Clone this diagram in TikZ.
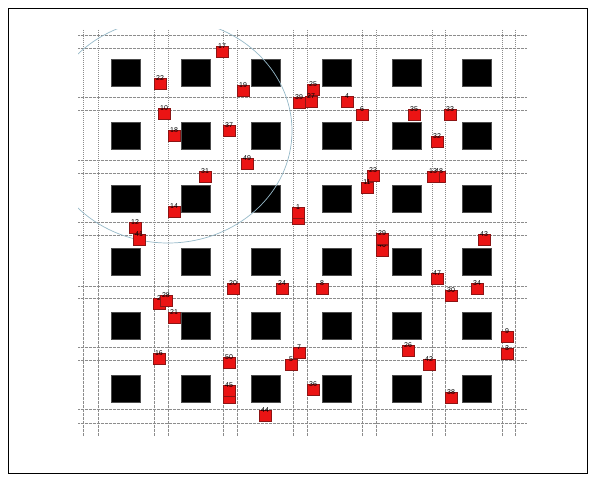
\documentclass[tikz,border=0pt]{standalone}
\usepackage{fontspec}
\setmainfont{Liberation Sans}
\usetikzlibrary{positioning}
\definecolor{cellgray}{RGB}{140,140,140}
\definecolor{rangeblue}{RGB}{150,185,200}
\definecolor{nodered}{RGB}{235,20,20}
\definecolor{nodeedge}{RGB}{140,20,20}

\begin{document}
\begin{tikzpicture}[x=1pt, y=-1pt,
    gridline/.style={draw=cellgray, line width=0.45pt,
                     dash pattern=on 1.5pt off 1pt on 0.5pt off 1pt},
    cell/.style={fill=black, draw=black!70, minimum width=29pt, minimum height=27pt,
                 inner sep=0pt, outer sep=0pt},
    sensor/.style={fill=nodered, draw=nodeedge, line width=0.4pt,
                   minimum width=11.5pt, minimum height=11pt, inner sep=0pt},
    tag/.style={anchor=south, inner sep=0pt, yshift=-2.5pt,
                font=\fontsize{7}{7}\selectfont, text=black},
    rangering/.style={draw=rangeblue, line width=0.7pt}
  ]
    \useasboundingbox (0,0) rectangle (595,481);
    \draw[line width=0.8pt] (8,8) rectangle (587,473);

    % field grid
    \foreach \x in {83,98,154,168,223,237,293,307,362,376,432,445,502,515}
      \draw[gridline] (\x,30) -- (\x,436);
    \foreach \y in {35,48,97,110,160,173,222,235,286,298,347,360,409,423}
      \draw[gridline] (78,\y) -- (527,\y);

    % cluster heads
    \foreach \c/\x in {1/126,2/196,3/266,4/337,5/407,6/477}
      \foreach \r/\y in {1/72.5,2/135.5,3/199,4/262,5/326,6/389}
        \node[cell] (b\r\c) at (\x,\y) {};

    % sensing range
    \begin{scope}
      \clip (78,30) rectangle (525,440);
      \draw[rangering] (168,131) ellipse [x radius=124, y radius=112];
    \end{scope}

    % sensor nodes
    \node[sensor] (s17) at (222,52) {};  \node[tag] (t17) at (s17.north) {17};
    \node[sensor] (s22) at (160,84) {};  \node[tag] (t22) at (s22.north) {22};
    \node[sensor] (s19) at (243,91) {};  \node[tag] (t19) at (s19.north) {19};
    \node[sensor] (s10) at (164,114) {}; \node[tag] (t10) at (s10.north) {10};
    \node[sensor] (s18) at (174,136) {}; \node[tag] (t18) at (s18.north) {18};
    \node[sensor] (s37) at (229,131) {}; \node[tag] (t37) at (s37.north) {37};
    \node[sensor] (s25) at (313,90) {};  \node[tag] (t25) at (s25.north) {25};
    \node[sensor] (s39) at (299,103) {}; \node[tag] (t39) at (s39.north) {39};
    \node[sensor] (s27) at (311,102) {}; \node[tag] (t27) at (s27.north) {27};
    \node[sensor] (s4) at (347,102) {};  \node[tag] (t4) at (s4.north) {4};
    \node[sensor] (s6) at (362,115) {};  \node[tag] (t6) at (s6.north) {6};
    \node[sensor] (s35) at (414,115) {}; \node[tag] (t35) at (s35.north) {35};
    \node[sensor] (s33) at (450,115) {}; \node[tag] (t33) at (s33.north) {33};
    \node[sensor] (s32) at (437,142) {}; \node[tag] (t32) at (s32.north) {32};
    \node[sensor] (s49) at (247,164) {}; \node[tag] (t49) at (s49.north) {49};
    \node[sensor] (s31) at (205,177) {}; \node[tag] (t31) at (s31.north) {31};
    \node[sensor] (s14) at (174,212) {}; \node[tag] (t14) at (s14.north) {14};
    \node[sensor] (s12) at (135,228) {}; \node[tag] (t12) at (s12.north) {12};
    \node[sensor] (s41) at (139,240) {}; \node[tag] (t41) at (s41.north) {41};
    \node[sensor] (s15) at (298,219) {}; \node[tag] (t15) at (s15.north) {15};
    \node[sensor] (s1) at (298,213) {};  \node[tag] (t1) at (s1.north) {1};
    \node[sensor] (s23) at (373,176) {}; \node[tag] (t23) at (s23.north) {23};
    \node[sensor] (s11) at (367,188) {}; \node[tag] (t11) at (s11.north) {11};
    \node[sensor] (s48) at (439,177) {}; \node[tag] (t48) at (s48.north) {48};
    \node[sensor] (s13) at (433,177) {}; \node[tag] (t13) at (s13.north) {13};
    \node[sensor] (s40) at (382,251) {}; \node[tag] (t40) at (s40.north) {40};
    \node[sensor] (s29) at (382,239) {}; \node[tag] (t29) at (s29.north) {29};
    \node[sensor] (s43) at (484,240) {}; \node[tag] (t43) at (s43.north) {43};
    \node[sensor] (s47) at (437,279) {}; \node[tag] (t47) at (s47.north) {47};
    \node[sensor] (s30) at (451,296) {}; \node[tag] (t30) at (s30.north) {30};
    \node[sensor] (s34) at (477,289) {}; \node[tag] (t34) at (s34.north) {34};
    \node[sensor] (s20) at (233,289) {}; \node[tag] (t20) at (s20.north) {20};
    \node[sensor] (s24) at (282,289) {}; \node[tag] (t24) at (s24.north) {24};
    \node[sensor] (s8) at (322,289) {};  \node[tag] (t8) at (s8.north) {8};
    \node[sensor] (s2) at (159,304) {};  \node[tag] (t2) at (s2.north) {2};
    \node[sensor] (s28) at (166,301) {}; \node[tag] (t28) at (s28.north) {28};
    \node[sensor] (s21) at (174,318) {}; \node[tag] (t21) at (s21.north) {21};
    \node[sensor] (s16) at (159,359) {}; \node[tag] (t16) at (s16.north) {16};
    \node[sensor] (s50) at (229,363) {}; \node[tag] (t50) at (s50.north) {50};
    \node[sensor] (s7) at (299,353) {};  \node[tag] (t7) at (s7.north) {7};
    \node[sensor] (s5) at (291,365) {};  \node[tag] (t5) at (s5.north) {5};
    \node[sensor] (s36) at (313,390) {}; \node[tag] (t36) at (s36.north) {36};
    \node[sensor] (s46) at (229,398) {}; \node[tag] (t46) at (s46.north) {46};
    \node[sensor] (s45) at (229,391) {}; \node[tag] (t45) at (s45.north) {45};
    \node[sensor] (s44) at (265,416) {}; \node[tag] (t44) at (s44.north) {44};
    \node[sensor] (s26) at (408,351) {}; \node[tag] (t26) at (s26.north) {26};
    \node[sensor] (s42) at (429,365) {}; \node[tag] (t42) at (s42.north) {42};
    \node[sensor] (s9) at (507,337) {};  \node[tag] (t9) at (s9.north) {9};
    \node[sensor] (s3) at (507,354) {};  \node[tag] (t3) at (s3.north) {3};
    \node[sensor] (s38) at (451,398) {}; \node[tag] (t38) at (s38.north) {38};
  \end{tikzpicture}
\end{document}
